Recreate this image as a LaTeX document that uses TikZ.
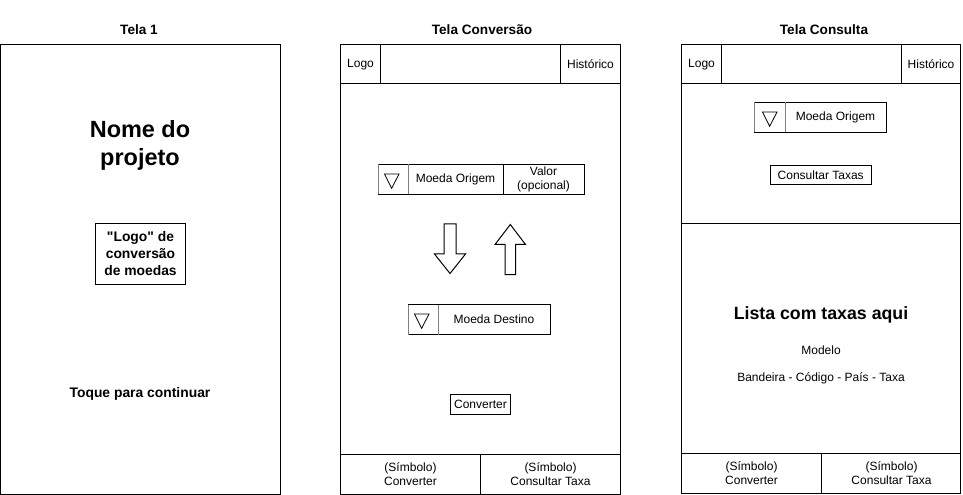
\documentclass[tikz,border=0pt]{standalone}
\usepackage{fontspec}
\setmainfont{Liberation Sans}[Ligatures=TeXOff]
\begin{document}
\begin{tikzpicture}[x=0.75pt,y=-0.75pt,line width=0.75pt,
  every node/.style={inner sep=0pt,align=center},
  t12/.style={font=\fontsize{9}{10.5}\selectfont},
  title/.style={font=\fontsize{10.2}{12}\selectfont\bfseries},
  b13/.style={font=\fontsize{10.4}{12.75}\selectfont\bfseries},
  big/.style={font=\fontsize{17.6}{21}\selectfont\bfseries},
  mid/.style={font=\fontsize{13.3}{15}\selectfont\bfseries},
  grayline/.style={draw=black!50},
  tri/.style={line width=0.6pt}]
\useasboundingbox (0,0) rectangle (963,495);

% titles
\node[title] (t1) at (139,30) {Tela 1};
\node[title] (t2) at (482,30) {Tela Conversão};
\node[title] (t3) at (824,30) {Tela Consulta};

% ---------- Tela 1 ----------
\draw (0.75,44.5) rectangle (280,494);
\node[big] (nome) at (140,145) {Nome do\\projeto};
\draw (95.5,224) rectangle (185.5,284);
\node[b13] (logo1) at (140.5,254) {"Logo" de\\conversão\\de moedas};
\node[b13] (toque) at (140,394) {Toque para continuar};

% ---------- Tela Conversao ----------
\draw (340.5,44.5) rectangle (620,494);
\draw (340.5,84) -- (620,84);
\draw (380.5,44.5) -- (380.5,84);
\draw (560.5,44.5) -- (560.5,84);
\node[t12] (clogo) at (360.5,64.5) {Logo};
\node[t12] (chist) at (590.5,64.5) {Histórico};

% combo origem
\draw (378,164.5) rectangle (584,194.5);
\draw[grayline] (378,164.5) -- (378,194.5);
\draw[grayline] (408,164.5) -- (408,194.5);
\draw (503.5,164.5) -- (503.5,194.5);
\draw[tri] (384.5,174) -- (399,174) -- (391.7,188.3) -- cycle;
\node[t12] (corig) at (455.5,179.5) {Moeda Origem};
\node[t12] (cval) at (543.5,179) {Valor\\(opcional)};

% block arrows
\draw (444,224) -- (456,224) -- (456,254) -- (465.5,254) -- (450,273.5)
  -- (434.5,254) -- (444,254) -- cycle;
\draw (505,274.5) -- (515.5,274.5) -- (515.5,244.5) -- (525.5,244.5) -- (510.3,224.5)
  -- (495,244.5) -- (505,244.5) -- cycle;

% combo destino
\draw (408,304.5) rectangle (550.5,334.5);
\draw[grayline] (408,304.5) -- (408,334.5);
\draw[grayline] (438,304.5) -- (438,334.5);
\draw[tri] (414.5,314) -- (429,314) -- (421.7,328.3) -- cycle;
\node[t12] (cdest) at (494,319.5) {Moeda Destino};

% converter button
\draw (450.5,394.5) rectangle (510.5,414.5);
\node[t12] (cconv) at (480.5,404.5) {Converter};

% footer
\draw (340.5,454) -- (620,454);
\draw (480.5,454) -- (480.5,494);
\node[t12] (cf1) at (410.5,474.5) {(Símbolo)\\Converter};
\node[t12] (cf2) at (550.5,474.5) {(Símbolo)\\Consultar Taxa};

% ---------- Tela Consulta ----------
\draw (681.5,44.5) rectangle (960.5,493.5);
\draw (681.5,83.5) -- (960.5,83.5);
\draw (721.5,44.5) -- (721.5,83.5);
\draw (901.5,44.5) -- (901.5,83.5);
\node[t12] (slogo) at (701.5,64.5) {Logo};
\node[t12] (shist) at (931,64.5) {Histórico};

% combo origem consulta
\draw (754.5,102.5) rectangle (886.5,132.5);
\draw[grayline] (754.5,102.5) -- (754.5,132.5);
\draw[grayline] (785,102.5) -- (785,132.5);
\draw[tri] (762.5,112) -- (777,112) -- (769.7,126.3) -- cycle;
\node[t12] (sorig) at (835.5,117.5) {Moeda Origem};

% consultar button
\draw (770.5,165.5) rectangle (871,184.5);
\node[t12] (scons) at (820.7,175) {Consultar Taxas};

\draw (681.5,224) -- (960.5,224);

\node[mid] (lista) at (821,315) {Lista com taxas aqui};
\node[t12] (modelo) at (821,350) {Modelo};
\node[t12] (band) at (821,378) {Bandeira - Código - País - Taxa};

% footer consulta
\draw (681.5,453.5) -- (960.5,453.5);
\draw (821.5,453.5) -- (821.5,493.5);
\node[t12] (sf1) at (751.5,473.5) {(Símbolo)\\Converter};
\node[t12] (sf2) at (891.5,473.5) {(Símbolo)\\Consultar Taxa};
\end{tikzpicture}
\end{document}
